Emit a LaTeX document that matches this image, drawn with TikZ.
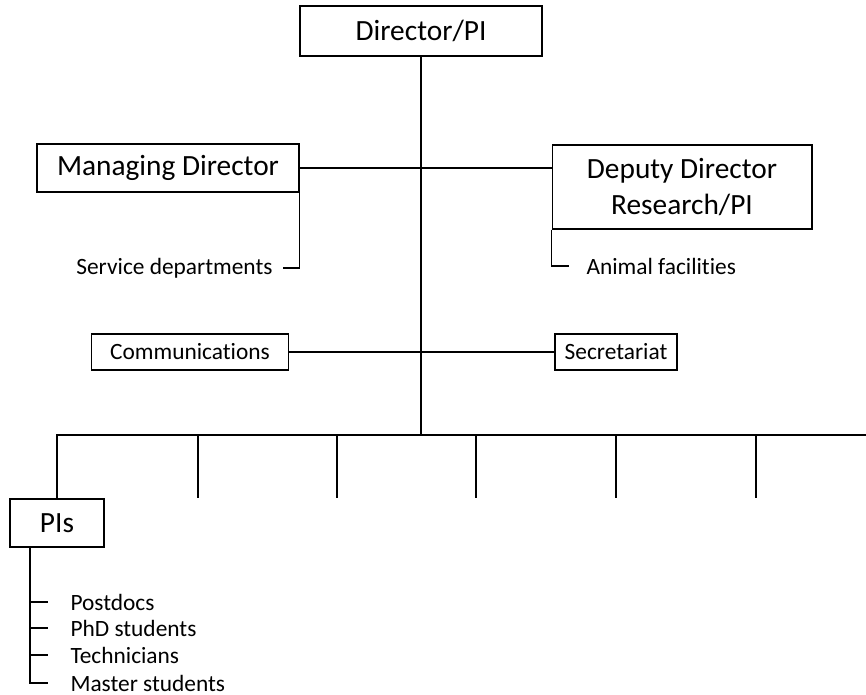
\documentclass[tikz,border=0pt]{standalone}
\usepackage{fontspec}
\setmainfont{Carlito}[Ligatures=NoCommon]

\begin{document}
\begin{tikzpicture}[x=0.02cm, y=-0.02cm, line width=0.6pt,
    post/.style={draw, inner sep=0pt, align=center, font=\fontsize{16.7}{21}\selectfont},
    unit/.style={draw, inner sep=0pt, font=\fontsize{13.3}{16}\selectfont},
    staff/.style={inner xsep=0.2cm, inner ysep=0pt, font=\fontsize{13.3}{16}\selectfont}]
    \useasboundingbox (0,0) rectangle (866,695);

    % Leitung
    \node[post, minimum width=4.84cm, minimum height=1cm] (dir) at (421,31) {Director/PI};
    \node[post, minimum width=5.24cm, minimum height=0.96cm] (md) at (168,168) {Managing Director};
    \node[post, minimum width=5.2cm, minimum height=1.68cm] (dep) at (682,187) {Deputy Director\\Research/PI};

    % Stabsstellen
    \node[unit, minimum width=3.94cm, minimum height=0.72cm] (com) at (190,352) {Communications};
    \node[unit, minimum width=2.44cm, minimum height=0.72cm] (sec) at (616,352) {Secretariat};

    % Arbeitsgruppen
    \node[post, minimum width=1.88cm, minimum height=0.96cm] (pis) at (57,523) {PIs};

    % Untereinheiten
    \node[staff, anchor=east] (svc) at (283,268) {Service departments};
    \node[staff, anchor=west, inner xsep=0.34cm] (ani) at (569,266) {Animal facilities};
    \node[staff, anchor=west, inner xsep=0.44cm] (pd) at (48,602) {Postdocs};
    \node[staff, anchor=west, inner xsep=0.44cm] (phd) at (48,628) {PhD students};
    \node[staff, anchor=west, inner xsep=0.44cm] (tec) at (48,655) {Technicians};
    \node[staff, anchor=west, inner xsep=0.44cm] (mst) at (48,683) {Master students};

    \coordinate (hub) at (421,435);
    \coordinate (busend) at (866,435);
    \coordinate (trunk) at (30,547);

    % Linien
    \draw (dir) -- (hub);
    \draw (md.east) -- (md.east -| dep.west);
    \draw (com) -- (sec);
    \draw (pis.north) |- (busend);
    \foreach \x in {198,337,476,616,756}
        \draw (\x,435) -- (\x,498);
    \draw (md.south east) |- (svc.east);
    \draw (dep.south west) |- (ani.west);
    \draw (trunk) |- (mst.west);
    \foreach \n in {pd,phd,tec}
        \draw (trunk |- \n.west) -- (\n.west);
\end{tikzpicture}
\end{document}
